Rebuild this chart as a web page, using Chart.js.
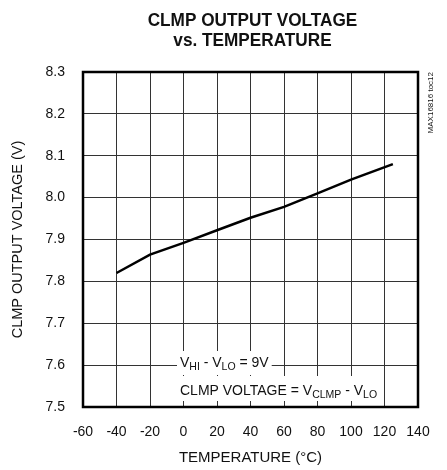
<!DOCTYPE html>
<html>
<head>
<meta charset="utf-8">
<script src="https://cdn.jsdelivr.net/npm/chart.js@4/dist/chart.umd.min.js"></script>
<style>
  html, body { margin: 0; padding: 0; background: #fff; }
  #wrap { width: 447px; height: 470px; position: relative; }
</style>
</head>
<body>
<div id="wrap"><canvas id="c" width="447" height="470"></canvas></div>
<script>
const temperatures = [-40, -20, 0, 20, 40, 60, 80, 100, 125];
const clmpVoltage = [7.82, 7.864, 7.892, 7.922, 7.952, 7.978, 8.01, 8.043, 8.08];
const xTickValues = [-60, -40, -20, 0, 20, 40, 60, 80, 100, 120, 140];
const yTickValues = [7.5, 7.6, 7.7, 7.8, 7.9, 8.0, 8.1, 8.2, 8.3];
const titleLines = ['CLMP OUTPUT VOLTAGE', 'vs. TEMPERATURE'];
const xTitle = 'TEMPERATURE (°C)';
const yTitle = 'CLMP OUTPUT VOLTAGE (V)';
const sideNote = 'MAX16816 toc12';

const FONT = '"Liberation Sans", Arial, Helvetica, sans-serif';

function drawSubText(ctx, parts, x, y, size) {
  let cx = x;
  parts.forEach(([t, sub]) => {
    ctx.font = (sub ? size * 0.75 : size) + 'px ' + FONT;
    ctx.fillText(t, cx, sub ? y + 3 : y);
    cx += ctx.measureText(t).width;
  });
  return cx - x;
}
function measureSub(ctx, parts, size) {
  let w = 0;
  parts.forEach(([t, sub]) => {
    ctx.font = (sub ? size * 0.75 : size) + 'px ' + FONT;
    w += ctx.measureText(t).width;
  });
  return w;
}

const decor = {
  id: 'decor',
  beforeDatasetsDraw(chart) {
    const ctx = chart.ctx, a = chart.chartArea;
    ctx.save();
    const size = 14;
    const line1 = [['V', false], ['HI', true], [' - V', false], ['LO', true], [' = 9V', false]];
    const line2 = [['CLMP VOLTAGE = V', false], ['CLMP', true], [' - V', false], ['LO', true]];
    const x0 = a.left + 97;
    const b1 = a.bottom - 40, b2 = a.bottom - 12;
    const w1 = measureSub(ctx, line1, size), w2 = measureSub(ctx, line2, size);
    ctx.fillStyle = '#fff';
    ctx.fillRect(x0 - 3, b1 - 16, w1 + 6, 24);
    ctx.fillRect(x0 - 3, b2 - 19, w2 + 6, 25);
    ctx.fillStyle = '#111';
    ctx.textBaseline = 'alphabetic';
    ctx.textAlign = 'left';
    drawSubText(ctx, line1, x0, b1, size);
    drawSubText(ctx, line2, x0, b2, size);
    ctx.restore();
  },
  afterDraw(chart) {
    const ctx = chart.ctx, a = chart.chartArea;
    ctx.save();
    ctx.strokeStyle = '#000';
    ctx.lineWidth = 2.5;
    ctx.strokeRect(a.left, a.top, a.right - a.left, a.bottom - a.top);
    // title (slightly condensed bold)
    ctx.fillStyle = '#111';
    ctx.textAlign = 'center';
    ctx.textBaseline = 'alphabetic';
    const cx = (a.left + a.right) / 2 + 2;
    ctx.save();
    ctx.translate(cx, 0);
    ctx.scale(0.93, 1);
    ctx.font = 'bold 18.5px ' + FONT;
    ctx.fillText(titleLines[0], 0, 25.5);
    ctx.fillText(titleLines[1], 0, 45.5);
    ctx.restore();
    // side note
    ctx.save();
    ctx.translate(a.right + 13, a.top);
    ctx.rotate(-Math.PI / 2);
    ctx.font = '8px ' + FONT;
    ctx.textAlign = 'right';
    ctx.textBaseline = 'middle';
    ctx.fillText(sideNote, 0, 0);
    ctx.restore();
    ctx.restore();
  }
};

new Chart(document.getElementById('c'), {
  type: 'line',
  data: {
    datasets: [{
      data: temperatures.map((t, i) => ({ x: t, y: clmpVoltage[i] })),
      borderColor: '#000',
      borderWidth: 2.5,
      pointRadius: 0,
      tension: 0,
      fill: false
    }]
  },
  options: {
    responsive: false,
    animation: false,
    devicePixelRatio: 1,
    layout: { padding: { left: 0, right: 29, top: 72, bottom: 0 } },
    plugins: { legend: { display: false }, tooltip: { enabled: false }, title: { display: false } },
    scales: {
      x: {
        type: 'linear',
        min: -60, max: 140,
        afterBuildTicks: (s) => { s.ticks = xTickValues.map(v => ({ value: v })); },
        afterFit: (s) => { s.height = 63; },
        grid: { color: '#333', lineWidth: 1, drawTicks: false },
        border: { display: false },
        ticks: { color: '#111', font: { family: FONT, size: 14 }, padding: 17, maxRotation: 0, autoSkip: false },
        title: { display: true, text: xTitle, color: '#111', font: { family: FONT, size: 15 }, padding: { top: 0, bottom: 3 } }
      },
      y: {
        type: 'linear',
        min: 7.5, max: 8.3,
        afterBuildTicks: (s) => { s.ticks = yTickValues.map(v => ({ value: v })); },
        afterFit: (s) => { s.width = 83; },
        grid: { color: '#333', lineWidth: 1, drawTicks: false },
        border: { display: false },
        ticks: { color: '#111', font: { family: FONT, size: 14 }, padding: 18, autoSkip: false,
                 callback: (v) => Number(v).toFixed(1) },
        title: { display: true, text: yTitle, color: '#111', font: { family: FONT, size: 14.5 }, padding: { top: 9, bottom: 0 } }
      }
    }
  },
  plugins: [decor]
});
</script>
</body>
</html>
